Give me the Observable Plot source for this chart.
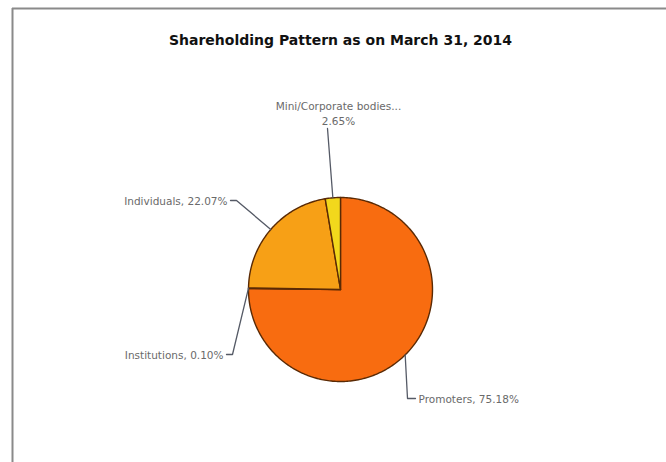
<!DOCTYPE html>
<html>
<head>
<meta charset="utf-8">
<script src="https://cdn.jsdelivr.net/npm/d3@7"></script>
<script src="https://cdn.jsdelivr.net/npm/@observablehq/plot@0.6"></script>
<style>
  html, body { margin: 0; padding: 0; background: #fff; }
</style>
</head>
<body>
<div id="chart"></div>
<script>
// ---- data ----
const title = "Shareholding Pattern as on March 31, 2014";
const categories = ["Promoters", "Institutions", "Individuals", "Mini/Corporate bodies..."];
const shares = [75.18, 0.10, 22.07, 2.65];
const shareLabels = ["75.18%", "0.10%", "22.07%", "2.65%"];
const colors = ["#F86C10", "#C0501A", "#F7A016", "#F2D81C"];

// ---- layout ----
const W = 666, H = 462;
const cx = 340, cy = 289, R = 92;
// elbow / label points for leader lines (pixel layout)
const leaders = [
  {bend: [407, 398], end: [415, 398], anchor: "start", lines: l => `${l.name}, ${l.label}`},
  {bend: [232, 354], end: [226, 354], anchor: "end", lines: l => `${l.name}, ${l.label}`},
  {bend: [236, 200], end: [230, 200], anchor: "end", lines: l => `${l.name}, ${l.label}`},
  {bend: [327, 128], end: [327, 128], anchor: "middle", lines: l => `${l.name}\n${l.label}`}
];

const total = d3.sum(shares);
let acc = 0;
const slices = categories.map((name, i) => {
  const a0 = acc / total * 2 * Math.PI;
  acc += shares[i];
  const a1 = acc / total * 2 * Math.PI;
  return {name, value: shares[i], label: shareLabels[i], color: colors[i], a0, a1, i};
});
const pt = (a, r) => [cx + r * Math.sin(a), cy - r * Math.cos(a)];

function slicePoly(s) {
  const pts = [[cx, cy]];
  const n = Math.max(2, Math.ceil((s.a1 - s.a0) / (Math.PI / 180)));
  for (let k = 0; k <= n; k++) pts.push(pt(s.a0 + (s.a1 - s.a0) * k / n, R));
  pts.push([cx, cy]);
  return pts.map(([x, y]) => ({x, y}));
}

const marks = [];
// frame (left + top)
marks.push(Plot.ruleX([12], {y1: 8, y2: H, stroke: "#8a8a8a", strokeWidth: 2}));
marks.push(Plot.ruleY([8], {x1: 12, x2: W, stroke: "#8a8a8a", strokeWidth: 2}));
// title
marks.push(Plot.text([title], {x: cx, y: 40, text: d => d, fontSize: 14, fontWeight: "bold", fill: "#111", fontFamily: "DejaVu Sans, sans-serif"}));
// slices
slices.forEach(s => {
  marks.push(Plot.line(slicePoly(s), {x: "x", y: "y", fill: s.color, stroke: "#5a2a05", strokeWidth: 1.4, strokeLinejoin: "round"}));
});
// leader lines and labels
slices.forEach((s, i) => {
  const L = leaders[i];
  const mid = (s.a0 + s.a1) / 2;
  const [ex, ey] = pt(mid, R);
  const path = [{x: ex, y: ey}, {x: L.bend[0], y: L.bend[1]}, {x: L.end[0], y: L.end[1]}];
  marks.push(Plot.line(path, {x: "x", y: "y", stroke: "#555a66", strokeWidth: 1.3}));
  marks.push(Plot.text([s], {
    x: L.end[0] + (L.anchor === "start" ? 3 : L.anchor === "end" ? -3 : 11),
    y: L.end[1] - (L.anchor === "middle" ? 4 : 0),
    text: d => L.lines(d),
    textAnchor: L.anchor,
    lineAnchor: L.anchor === "middle" ? "bottom" : "middle",
    lineHeight: 1.4,
    fontSize: 10.5,
    fill: "#6a6a6a",
    fontFamily: "DejaVu Sans, sans-serif"
  }));
});

const chart = Plot.plot({
  width: W,
  height: H,
  margin: 0,
  x: {domain: [0, W], range: [0, W], axis: null},
  y: {domain: [0, H], range: [0, H], axis: null},
  style: {background: "#fff"},
  marks
});
document.getElementById("chart").append(chart);
</script>
</body>
</html>
